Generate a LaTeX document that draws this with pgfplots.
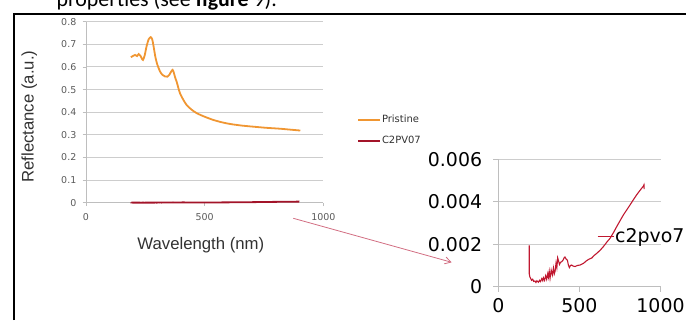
\documentclass[border=0pt]{standalone}
\usepackage{pgfplots}
\pgfplotsset{compat=1.18}
\usepackage{pgfplotstable}
\usepackage{fontspec}
\usetikzlibrary{arrows.meta}
\setmainfont{Liberation Sans}
\newfontfamily\dejavu{DejaVu Sans}
\newfontfamily\carlito{Carlito}
\definecolor{orng}{RGB}{240,150,50}
\definecolor{crim}{RGB}{192,24,48}
\definecolor{gridc}{RGB}{205,205,205}
\definecolor{axc}{RGB}{190,190,190}
\definecolor{tickc}{RGB}{90,90,90}
\definecolor{labc}{RGB}{50,50,50}
\definecolor{arrc}{RGB}{210,110,130}

\pgfplotstableread{
lam R
189 0.643
200 0.650
207 0.653
215 0.648
222 0.657
229 0.650
235 0.638
240 0.631
247 0.650
255 0.690
264 0.722
273 0.732
279 0.722
285 0.690
292 0.646
300 0.612
312 0.580
322 0.565
333 0.558
343 0.557
351 0.565
358 0.578
365 0.587
370 0.575
376 0.552
382 0.535
389 0.508
396 0.484
410 0.455
424 0.432
444 0.412
466 0.396
500 0.380
536 0.366
570 0.356
607 0.348
655 0.341
705 0.336
760 0.331
818 0.327
860 0.323
903 0.319
}\pristine

\pgfplotstableread{
lam R
191 0.00195
191 0.00060
195 0.00045
199 0.00040
205 0.00030
212 0.00035
218 0.00025
226 0.00027
232 0.00020
238 0.00028
247 0.00021
254 0.00030
260 0.00024
268 0.00038
274 0.00028
278 0.00042
285 0.00030
292 0.00052
298 0.00035
305 0.00062
309 0.00045
314 0.00072
319 0.00040
326 0.00078
333 0.00055
340 0.00088
345 0.00060
350 0.00072
356 0.00112
361 0.00090
366 0.00136
372 0.00120
377 0.00105
384 0.00115
391 0.00118
400 0.00126
407 0.00138
411 0.00140
418 0.00130
426 0.00125
432 0.00102
438 0.00090
445 0.00100
452 0.00102
462 0.00097
473 0.00095
488 0.00100
504 0.00102
525 0.00110
545 0.00123
560 0.00130
576 0.00135
592 0.00148
607 0.00157
628 0.00172
648 0.00189
669 0.00210
689 0.00228
710 0.00255
730 0.00283
750 0.00310
771 0.00338
792 0.00362
812 0.00385
833 0.00410
853 0.00433
870 0.00450
884 0.00464
893 0.00472
898 0.00480
899 0.00460
}\ctwo

\begin{document}
\begin{tikzpicture}[x=1bp,y=1bp]
\path[use as bounding box] (0,0) rectangle (689,320);
\clip (0,0) rectangle (689,320);
% cut-off document text at top
\node[anchor=base east, font=\carlito\fontsize{22}{26}\selectfont, inner sep=0pt] at (277,313.5) {properties (see \textbf{figure} 9).};
% frame
\draw[line width=1.5bp] (14,0) -- (14,306) -- (686,306);

% left chart
\begin{axis}[
  at={(86bp,117.3bp)}, anchor=origin,
  scale only axis, width=237.3bp, height=181bp,
  xmin=0, xmax=1000, ymin=0, ymax=0.8,
  axis x line*=bottom, axis y line*=left,
  axis line style={axc, line width=0.8bp, -},
  xtick={0,500,1000}, ytick={0,0.1,...,0.81},
  tick align=outside, major tick length=3.5bp,
  tick style={axc, line width=0.8bp},
  ymajorgrids, grid style={gridc, line width=0.9bp},
  /pgf/number format/assume math mode=true,
  /pgf/number format/1000 sep={},
  yticklabel style={/pgf/number format/fixed, /pgf/number format/precision=1, inner sep=0pt, anchor=east, xshift=-6bp},
  xticklabel style={inner sep=0pt, anchor=north, yshift=-7.5bp},
  tick label style={font=\dejavu\fontsize{9.5}{11}\selectfont, text=tickc},
  clip=false,
  legend style={draw=none, fill=none, at={(1.143,0.400)}, anchor=west, inner sep=0pt,
    font=\dejavu\fontsize{10}{11}\selectfont, text=labc, row sep=9.5bp,
    nodes={inner sep=0.8bp, text height=7.5bp, text depth=2bp}},
  legend image code/.code={\draw[#1, line width=1.8bp] (0bp,0bp) -- (22bp,0bp);},
  legend cell align=left,
]
\addplot[orng, line width=1.8bp, smooth, tension=0.4] table[x=lam, y=R] {\pristine};
\addlegendentry{Pristine}
\addplot[crim!85!black, line width=1.8bp] table[x=lam, y=R] {\ctwo};
\addlegendentry{C2PV07}
\end{axis}

\node[rotate=90, font=\fontsize{16.8}{18}\selectfont, text=labc, inner sep=0pt] at (29.3,203.3) {Reflectance (a.u.)};
\node[font=\fontsize{16.8}{18}\selectfont, text=labc, inner sep=0pt] at (200.8,75) {Wavelength (nm)};

% inset chart
\begin{axis}[
  at={(498.3bp,33.3bp)}, anchor=origin,
  scale only axis, width=162.2bp, height=127.4bp,
  xmin=0, xmax=1000, ymin=0, ymax=0.006,
  axis x line*=bottom, axis y line*=left,
  axis line style={axc, line width=0.8bp, -},
  xtick={0,500,1000}, ytick={0,0.002,0.004,0.006},
  scaled y ticks=false,
  tick align=outside, major tick length=5bp,
  tick style={axc, line width=0.8bp},
  ymajorgrids, grid style={gridc, line width=0.9bp},
  /pgf/number format/assume math mode=true,
  /pgf/number format/1000 sep={},
  yticklabel style={/pgf/number format/fixed, /pgf/number format/precision=3, inner sep=0pt, anchor=east, xshift=-11bp},
  xticklabel style={inner sep=0pt, anchor=north, yshift=-7bp},
  tick label style={font=\dejavu\fontsize{19}{21}\selectfont, text=black},
  clip=false,
  legend style={draw=none, fill=none, at={(0.6067,0.3925)}, anchor=west, inner sep=0pt,
    font=\dejavu\fontsize{19}{21}\selectfont, text=black,
    nodes={inner sep=0.5bp}},
  legend image code/.code={\draw[#1, line width=1.2bp] (0bp,0bp) -- (16.6bp,0bp);},
]
\addplot[crim, line width=1.1bp] table[x=lam, y=R] {\ctwo};
\addlegendentry{c2pvo7}
\end{axis}

% arrow
\draw[arrc, line width=0.8bp, -{Straight Barb[length=6bp, width=7bp]}] (293.3,101.7) -- (451.7,57.7);
\end{tikzpicture}
\end{document}
